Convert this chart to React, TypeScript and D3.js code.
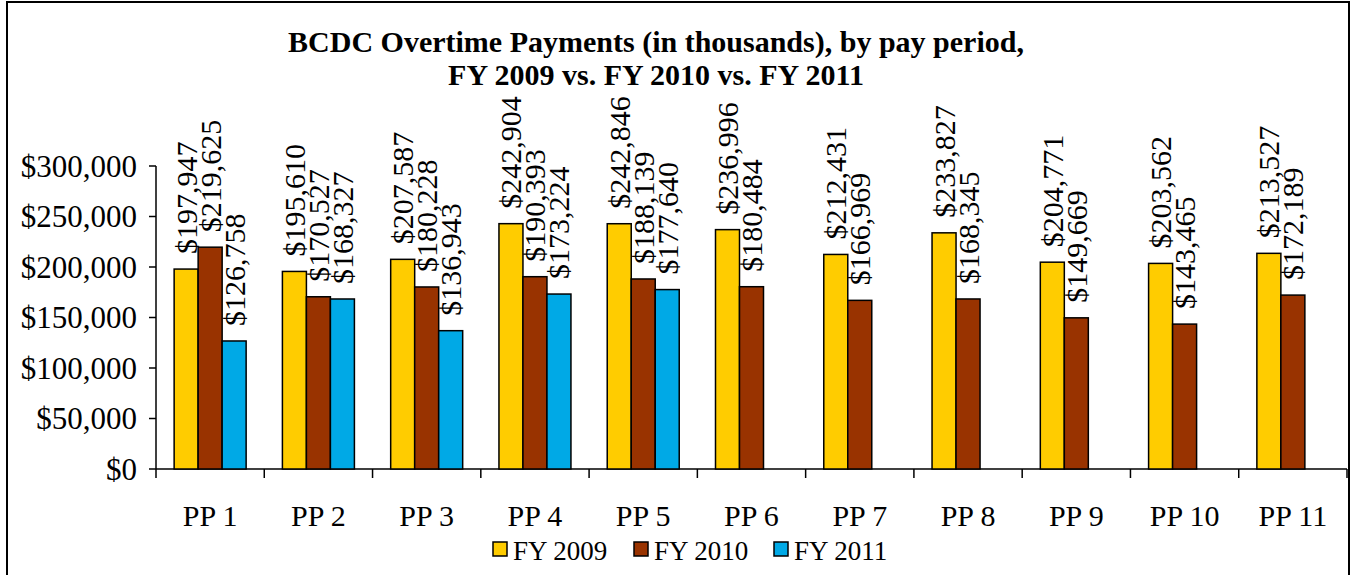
import React from "react";
import * as d3 from "d3";

const categories = ["PP 1", "PP 2", "PP 3", "PP 4", "PP 5", "PP 6", "PP 7", "PP 8", "PP 9", "PP 10", "PP 11"];
const seriesNames = ["FY 2009", "FY 2010", "FY 2011"];
const fy2009 = [197947, 195610, 207587, 242904, 242846, 236996, 212431, 233827, 204771, 203562, 213527];
const fy2010 = [219625, 170527, 180228, 190393, 188139, 180484, 166969, 168345, 149669, 143465, 172189];
const fy2011: (number | null)[] = [126758, 168327, 136943, 173224, 177640, null, null, null, null, null, null];
const yTicks = [0, 50000, 100000, 150000, 200000, 250000, 300000];
const colors = ["#FFCC00", "#993300", "#00A9E6"];
const titleLines = ["BCDC Overtime Payments (in thousands), by pay period,", "FY 2009 vs. FY 2010 vs. FY 2011"];

const W = 1354;
const H = 575;
const FONT = "'Liberation Serif', 'Times New Roman', serif";

export default function App() {
  const left = 156;
  const right = 1347;
  const y = d3.scaleLinear().domain([0, 300000]).range([469, 166]);
  const x = d3.scaleBand<string>().domain(categories).range([left, right]).paddingInner(0).paddingOuter(0);
  const bw = x.bandwidth();
  const inner = d3.scaleBand<string>().domain(seriesNames).range([0, 72]);
  const groupOffset = (bw - 72) / 2;
  const fmt = (v: number) => "$" + d3.format(",")(v);
  const all = [fy2009, fy2010, fy2011];

  return (
    <svg width={W} height={H} style={{ display: "block", position: "absolute", left: 0, top: 0 }} fontFamily={FONT}>
      <rect x={0} y={0} width={W} height={H} fill="#fff" />
      <rect x={7} y={2} width={1342} height={600} fill="none" stroke="#000" strokeWidth={2} />
      {titleLines.map((t, i) => (
        <text key={i} x={656} y={52 + i * 33} textAnchor="middle" fontWeight="bold" fontSize={30} fontFamily={FONT}>
          {t}
        </text>
      ))}
      {/* y axis */}
      <line x1={left} x2={left} y1={y(300000)} y2={y(0)} stroke="#000" strokeWidth={1.5} />
      {yTicks.map((t) => (
        <g key={t}>
          <line x1={left - 7} x2={left} y1={y(t)} y2={y(t)} stroke="#000" strokeWidth={1.5} />
          <text x={137} y={y(t)} dy="0.35em" textAnchor="end" fontSize={31} fontFamily={FONT}>
            {fmt(t)}
          </text>
        </g>
      ))}
      {/* x axis */}
      <line x1={left} x2={right} y1={y(0)} y2={y(0)} stroke="#000" strokeWidth={1.5} />
      {categories.map((c, i) => (
        <line key={"t" + c} x1={left + i * bw} x2={left + i * bw} y1={y(0)} y2={y(0) + 9} stroke="#000" strokeWidth={1.5} />
      ))}
      <line x1={right} x2={right} y1={y(0)} y2={y(0) + 9} stroke="#000" strokeWidth={1.5} />
      {categories.map((c) => (
        <text key={"l" + c} x={(x(c) as number) + bw / 2} y={526} textAnchor="middle" fontSize={30} fontFamily={FONT}>
          {c}
        </text>
      ))}
      {/* bars */}
      {all.map((vals, si) =>
        vals.map((v, ci) => {
          if (v == null) return null;
          const bx = (x(categories[ci]) as number) + groupOffset + (inner(seriesNames[si]) as number);
          const w = inner.bandwidth();
          return (
            <rect key={si + "-" + ci} x={bx} y={y(v)} width={w} height={y(0) - y(v)} fill={colors[si]} stroke="#000" strokeWidth={1.5} />
          );
        })
      )}
      {/* labels */}
      {all.map((vals, si) =>
        vals.map((v, ci) => {
          if (v == null) return null;
          const cx = (x(categories[ci]) as number) + groupOffset + (inner(seriesNames[si]) as number) + inner.bandwidth() / 2;
          const ty = y(v) - 15;
          return (
            <text
              key={"d" + si + "-" + ci}
              transform={`translate(${cx},${ty}) rotate(-90)`}
              dy="0.35em"
              fontSize={30}
              fontFamily={FONT}
              style={{ fontFamily: FONT }}
            >
              {fmt(v)}
            </text>
          );
        })
      )}
      {/* legend */}
      {seriesNames.map((s, i) => {
        const xs = [493, 634, 774][i];
        return (
          <g key={s}>
            <rect x={xs} y={542} width={14} height={14} fill={colors[i]} stroke="#000" strokeWidth={1.5} />
            <text x={xs + 20} y={560} fontSize={27} fontFamily={FONT}>
              {s}
            </text>
          </g>
        );
      })}
    </svg>
  );
}
